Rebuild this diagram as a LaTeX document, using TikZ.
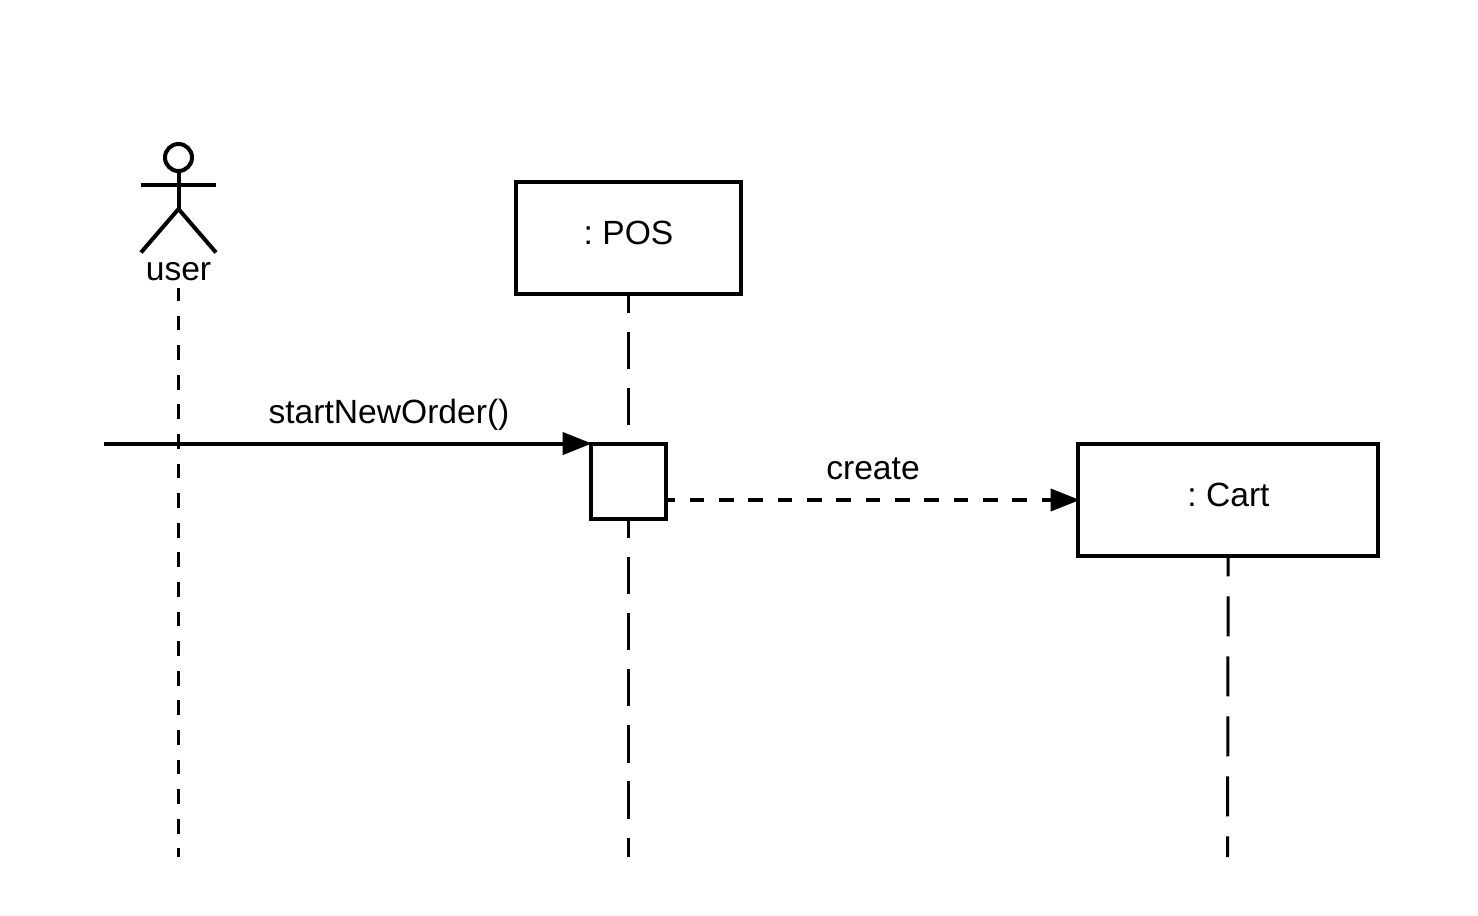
\documentclass[tikz,border=0pt]{standalone}
\usepackage{fontspec}
\setmainfont{Liberation Sans}
\usetikzlibrary{arrows.meta}
\tikzset{
  px/.style={x=0.75pt,y=-0.75pt},
  ink/.style={line width=3pt,draw=black},
  objbox/.style={ink,fill=white,rectangle,inner sep=0pt,outer sep=0pt,minimum width=168.75pt,minimum height=84.4pt},
  actbox/.style={ink,fill=white,rectangle,inner sep=0pt,outer sep=0pt,minimum width=56.6pt,minimum height=56.6pt},
  lbl/.style={inner sep=0pt,font=\fontsize{25.2}{30}\selectfont\frenchspacing,text=black},
  thinlife/.style={line width=2.25pt,draw=black,dash pattern=on 11.1pt off 11.1pt,dash phase=1.5pt},
  poslife/.style={line width=2.25pt,draw=black,dash pattern=on 28.1pt off 14.05pt,dash phase=14pt},
  life/.style={line width=2.25pt,draw=black,dash pattern=on 30pt off 15pt,dash phase=15pt},
  msg/.style={ink,shorten >=-1.1pt,-{Triangle[length=22pt,width=16.5pt,inset=0pt]}},
  dmsg/.style={ink,shorten >=-1.1pt,dash pattern=on 11pt off 11pt,dash phase=4.25pt,-{Triangle[length=22pt,width=16.5pt,inset=0pt]}},
  limb/.style={line width=3pt,draw=black,line cap=butt},
}
\begin{document}
\begin{tikzpicture}[px]
\useasboundingbox (0,0) rectangle (1478,915);
\node[objbox] (pos) at (628.5,238) {};
\node[objbox,minimum width=224.6pt] (cart) at (1228.2,500) {};
\node[lbl] (postxt) at (628.5,232.5) {: POS};
\node[lbl] (carttxt) at (1228.5,495) {: Cart};
\coordinate (useranchor) at (178.5,288);
\coordinate (userend) at (178.5,857);
\coordinate (posend) at (628.5,857);
\coordinate (cartend) at (1227.5,857);
\draw[thinlife] (useranchor) -- (userend);
\draw[poslife] (pos.south) -- (posend);
\draw[life] (cart.south) -- (cartend);
\node[actbox] (act) at (628.25,481.25) {};
\coordinate (start) at (104,443.5);
\draw[msg] (start |- act.north west) -- (act.north west);
\draw[dmsg] (act.east |- cart.west) -- (cart.west);
\node[lbl] (startlbl) at (389,415) {startNewOrder()};
\node[lbl] (createlbl) at (873,469) {create};
\node[draw=black,line width=3pt,circle,inner sep=0pt,outer sep=0pt,minimum size=20.25pt] (head) at (178.5,157.5) {};
\coordinate (hip) at (178.5,209);
\coordinate (armL) at (141,185);
\coordinate (armR) at (216,185);
\coordinate (footL) at (141,252.5);
\coordinate (footR) at (216,252.5);
\draw[limb] (head.south) -- (hip);
\draw[limb] (armL) -- (armR);
\draw[limb] (footL) -- (hip) -- (footR);
\node[lbl] (userlbl) at (178.5,272) {user};
\end{tikzpicture}
\end{document}
